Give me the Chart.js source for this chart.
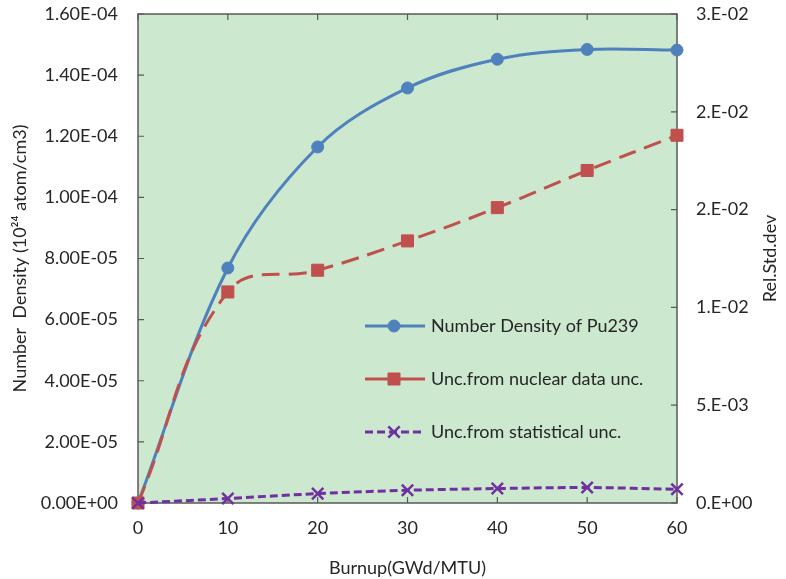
<!DOCTYPE html>
<html>
<head>
<meta charset="utf-8">
<script src="https://cdn.jsdelivr.net/npm/chart.js@4"></script>
<style>
  html, body { margin: 0; padding: 0; background: #fff; }
  #wrap { width: 786px; height: 579px; }
</style>
</head>
<body>
<div id="wrap"><canvas id="myChart"></canvas></div>
<script>
// burnup steps (GWd/MTU)
const burnup = [0, 10, 20, 30, 40, 50, 60];
// Pu239 number density, left axis
const density = [0, 7.69e-5, 1.165e-4, 1.358e-4, 1.452e-4, 1.484e-4, 1.482e-4];
// relative std dev, right axis
const nuclearUnc = [0, 0.01079, 0.01190, 0.01340, 0.01510, 0.01700, 0.01880];
const statUnc = [0, 0.00023, 0.00048, 0.00065, 0.00074, 0.00079, 0.00070];

// excel rounds these to 1 digit, so 1.5E-02 shows as 2.E-02
const rightTickLabels = ['0.E+00', '5.E-03', '1.E-02', '2.E-02', '2.E-02', '3.E-02'];

const seriesNames = ['Number Density of Pu239', 'Unc.from nuclear data unc.', 'Unc.from statistical unc.'];
const rightTitle = 'Rel.Std.dev';

const FONT = 'Lato';
const TEXT = '#262626';

// 1.6e-4 -> "1.60E-04"
function sciLabel(v) {
  let parts = Number(v).toExponential(2).split('e');
  let exp = parseInt(parts[1]);
  let sign = exp < 0 ? '-' : '+';
  let e = String(Math.abs(exp)).padStart(2, '0');
  return parts[0] + 'E' + sign + e;
}

function toPoints(ys) {
  return burnup.map((b, i) => ({ x: b, y: ys[i] }));
}

// green plot area, grey frame and inside tick marks
const plotFrame = {
  id: 'plotFrame',
  beforeDatasetsDraw(chart) {
    const ctx = chart.ctx;
    const a = chart.chartArea;
    ctx.save();
    ctx.fillStyle = '#CCE8CF';
    ctx.fillRect(a.left, a.top, a.right - a.left, a.bottom - a.top);
    ctx.strokeStyle = '#595959';
    ctx.lineWidth = 1.5;
    ctx.strokeRect(a.left, a.top, a.right - a.left, a.bottom - a.top);
    ctx.lineWidth = 1.2;
    ctx.beginPath();
    chart.scales.x.ticks.forEach(t => {
      let px = chart.scales.x.getPixelForValue(t.value);
      ctx.moveTo(px, a.bottom); ctx.lineTo(px, a.bottom - 6);
      ctx.moveTo(px, a.top); ctx.lineTo(px, a.top + 6);
    });
    chart.scales.y.ticks.forEach(t => {
      let py = chart.scales.y.getPixelForValue(t.value);
      ctx.moveTo(a.left, py); ctx.lineTo(a.left + 6, py);
    });
    chart.scales.y2.ticks.forEach(t => {
      let py = chart.scales.y2.getPixelForValue(t.value);
      ctx.moveTo(a.right, py); ctx.lineTo(a.right - 6, py);
    });
    ctx.stroke();

    // right title reads bottom-to-top like the left one
    ctx.translate(770, (a.top + a.bottom) / 2);
    ctx.rotate(-Math.PI / 2);
    ctx.fillStyle = TEXT;
    ctx.font = '18px ' + FONT;
    ctx.textAlign = 'center';
    ctx.textBaseline = 'middle';
    ctx.fillText(rightTitle, 0, 0);
    ctx.restore();
  }
};

// legend sits inside the plot, like excel's
const innerLegend = {
  id: 'innerLegend',
  afterDraw(chart) {
    const ctx = chart.ctx;
    const a = chart.chartArea;
    const x0 = a.left + 227;
    const rows = [a.top + 312, a.top + 365, a.top + 418];
    ctx.save();
    chart.data.datasets.forEach((ds, i) => {
      let y = rows[i];
      ctx.strokeStyle = ds.borderColor;
      ctx.fillStyle = ds.backgroundColor;
      ctx.lineWidth = 3;
      ctx.setLineDash(i == 2 ? ds.borderDash : []);
      ctx.beginPath();
      ctx.moveTo(x0, y); ctx.lineTo(x0 + 60, y);
      ctx.stroke();
      ctx.setLineDash([]);
      ctx.lineWidth = ds.pointBorderWidth;
      Chart.helpers.drawPoint(ctx, {
        pointStyle: ds.pointStyle, radius: ds.pointRadius,
        borderWidth: ds.pointBorderWidth, rotation: 0
      }, x0 + 29, y);
      ctx.fillStyle = TEXT;
      ctx.font = '18px ' + FONT;
      ctx.textBaseline = 'middle';
      ctx.fillText(ds.label, x0 + 66, y);
    });
    ctx.restore();
  }
};

const myChart = document.getElementById('myChart');

new Chart(myChart, {
  type: 'line',
  data: {
    datasets: [
      {
        label: seriesNames[0],
        data: toPoints(density),
        yAxisID: 'y',
        order: 3,
        borderColor: '#4F81BD',
        backgroundColor: '#4F81BD',
        borderWidth: 3,
        pointStyle: 'circle',
        pointRadius: 6,
        pointBorderWidth: 1,
        tension: 0.35,
        clip: false
      },
      {
        label: seriesNames[1],
        data: toPoints(nuclearUnc),
        yAxisID: 'y2',
        order: 2,
        borderColor: '#C0504D',
        backgroundColor: '#C0504D',
        borderWidth: 3,
        borderDash: [18, 9],
        pointStyle: 'rect',
        pointRadius: 8.5,
        pointBorderWidth: 1,
        tension: 0.42,
        clip: false
      },
      {
        label: seriesNames[2],
        data: toPoints(statUnc),
        yAxisID: 'y2',
        order: 1,
        borderColor: '#7030A0',
        backgroundColor: '#7030A0',
        borderWidth: 3,
        borderDash: [8, 4],
        pointStyle: 'crossRot',
        pointRadius: 8,
        pointBorderWidth: 2.5,
        tension: 0.35,
        clip: false
      }
    ]
  },
  options: {
    responsive: true,
    maintainAspectRatio: false,
    animation: false,
    layout: { padding: { top: 14, left: 0, right: 0, bottom: 0 } },
    plugins: {
      legend: { display: false },
      tooltip: { enabled: false }
    },
    scales: {
      x: {
        type: 'linear',
        min: 0, max: 60,
        grid: { display: false, drawTicks: false },
        border: { display: false },
        ticks: { stepSize: 10, padding: 14, color: TEXT, font: { family: FONT, size: 18 } },
        title: { display: true, text: 'Burnup(GWd/MTU)', color: TEXT, font: { family: FONT, size: 18 }, padding: { top: 2, bottom: 0 } },
        afterFit(scale) { scale.height = 76; scale.paddingLeft = 0; scale.paddingRight = 0; }
      },
      y: {
        position: 'left',
        min: 0, max: 1.6e-4,
        grid: { display: false, drawTicks: false },
        border: { display: false },
        ticks: {
          stepSize: 2e-5, padding: 20, color: TEXT, font: { family: FONT, size: 18 },
          callback: v => sciLabel(v)
        },
        title: { display: true, text: 'Number  Density (10²⁴ atom/cm3)', color: TEXT, font: { family: FONT, size: 18 }, padding: { top: 9, bottom: 0 } },
        afterFit(scale) { scale.width = 138; scale.paddingTop = 0; scale.paddingBottom = 0; }
      },
      y2: {
        position: 'right',
        min: 0, max: 0.025,
        grid: { display: false, drawTicks: false },
        border: { display: false },
        ticks: {
          stepSize: 0.005, padding: 19, color: TEXT, font: { family: FONT, size: 18 },
          callback: (v, i) => rightTickLabels[i]
        },
        title: { display: false },
        afterFit(scale) { scale.width = 109; scale.paddingTop = 0; scale.paddingBottom = 0; }
      }
    }
  },
  plugins: [plotFrame, innerLegend]
});
</script>
</body>
</html>
